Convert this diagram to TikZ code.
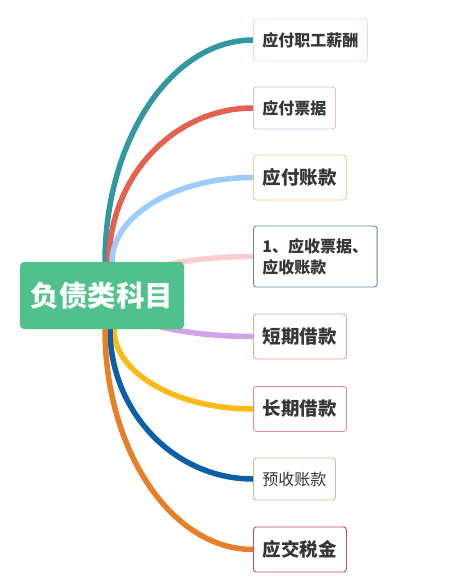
\documentclass[tikz,border=0pt]{standalone}
\usepackage{fontspec}
\usepackage{tikz}
\usetikzlibrary{calc,backgrounds}

\newfontfamily\cjk{Noto Sans CJK SC}

\definecolor{rootgreen}{HTML}{50C18B}
\definecolor{textgray}{HTML}{363636}
\definecolor{tealline}{HTML}{2F98A1}
\definecolor{redline}{HTML}{E75F4D}
\definecolor{skyline}{HTML}{9DCBFB}
\definecolor{pinkline}{HTML}{FFCDCD}
\definecolor{lilacline}{HTML}{D2A3E9}
\definecolor{goldline}{HTML}{FDB914}
\definecolor{navyline}{HTML}{0B5EA8}
\definecolor{orangeline}{HTML}{E67F25}

\definecolor{box1}{HTML}{F7D5DC}
\definecolor{box2}{HTML}{DDBDEA}
\definecolor{box3}{HTML}{F4D185}
\definecolor{box4}{HTML}{5A87B6}
\definecolor{box5}{HTML}{EBA48E}
\definecolor{box6}{HTML}{E48C8C}
\definecolor{box7}{HTML}{AACD8E}
\definecolor{box8}{HTML}{C9466C}

\begin{document}
\begin{tikzpicture}[x=1pt,y=-1pt,
  item/.style={draw, rounded corners=3pt, line width=0.9pt, fill=white, anchor=west,
    inner xsep=9pt, text=textgray, minimum height=42pt,
    font=\cjk\fontsize{16}{19}\selectfont\bfseries},
  bigitem/.style={item, minimum height=45pt, inner xsep=9.5pt,
    font=\cjk\fontsize{18.5}{22}\selectfont\bfseries},
  branch/.style={line width=5.5pt}]

\useasboundingbox (0,0) rectangle (456,582);

\node(root)[fill=rootgreen, rounded corners=4pt, minimum width=164pt, minimum height=67pt,
  text=white, font=\cjk\fontsize{28.5}{32}\selectfont\bfseries] at (102,295.5) {负债类科目};

\node(n1)[item, draw=box1] at (253,40) {应付职工薪酬};
\node(n2)[item, draw=box2] at (253,108) {应付票据};
\node(n3)[bigitem, draw=box3] at (253,177.5) {应付账款};
\node(n4)[item, draw=box4, align=left, minimum height=61pt,
  font=\cjk\fontsize{16}{21}\selectfont\bfseries] at (253,256.5) {1、应收票据、\\应收账款};
\node(n5)[bigitem, draw=box5] at (253,336.5) {短期借款};
\node(n6)[bigitem, draw=box6] at (253,409) {长期借款};
\node(n7)[item, draw=box7, font=\cjk\fontsize{16}{19}\selectfont] at (253,479) {预收账款};
\node(n8)[bigitem, draw=box8] at (253,549.5) {应交税金};

\coordinate(o1) at (105,262);
\coordinate(o2) at (109,262);
\coordinate(o3) at (112,262);
\coordinate(o4) at (110,296);
\coordinate(o5) at (110,296);
\coordinate(o6) at (114,329);
\coordinate(o7) at (110,329);
\coordinate(o8) at (105,329);

\begin{scope}[on background layer]
\draw[branch, tealline] (o1) .. controls ($(o1)!0.55!(o1|-n1.west)$) and ($(n1.west)!0.55!(o1|-n1.west)$) .. (n1.west);
\draw[branch, redline] (o2) .. controls ($(o2)!0.55!(o2|-n2.west)$) and ($(n2.west)!0.55!(o2|-n2.west)$) .. (n2.west);
\draw[branch, skyline] (o3) .. controls ($(o3)!0.55!(o3|-n3.west)$) and ($(n3.west)!0.55!(o3|-n3.west)$) .. (n3.west);
\draw[branch, pinkline] (o4) .. controls ($(o4)!0.55!(o4|-n4.west)$) and ($(n4.west)!0.55!(o4|-n4.west)$) .. (n4.west);
\draw[branch, lilacline] (o5) .. controls ($(o5)!0.55!(o5|-n5.west)$) and ($(n5.west)!0.55!(o5|-n5.west)$) .. (n5.west);
\draw[branch, goldline] (o6) .. controls ($(o6)!0.55!(o6|-n6.west)$) and ($(n6.west)!0.55!(o6|-n6.west)$) .. (n6.west);
\draw[branch, navyline] (o7) .. controls ($(o7)!0.55!(o7|-n7.west)$) and ($(n7.west)!0.55!(o7|-n7.west)$) .. (n7.west);
\draw[branch, orangeline] (o8) .. controls ($(o8)!0.55!(o8|-n8.west)$) and ($(n8.west)!0.55!(o8|-n8.west)$) .. (n8.west);
\end{scope}

\end{tikzpicture}
\end{document}
